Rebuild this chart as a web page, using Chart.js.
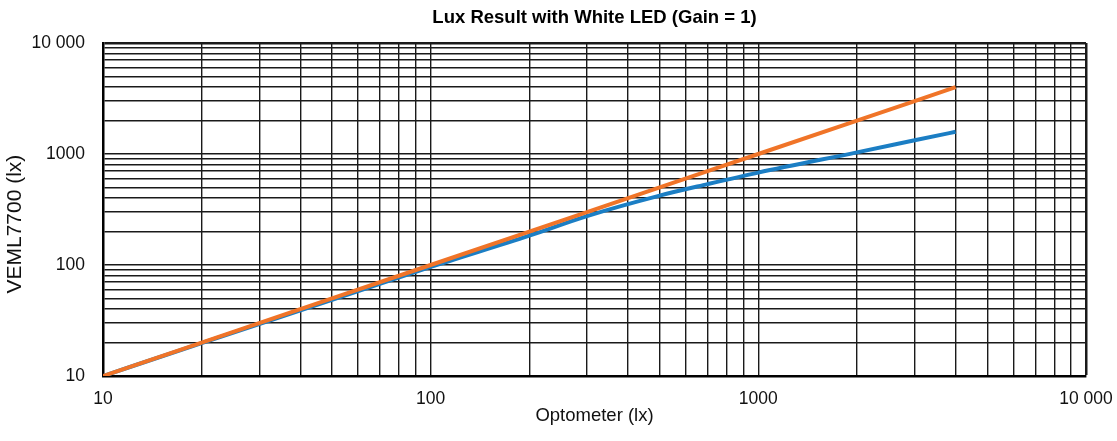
<!DOCTYPE html>
<html>
<head>
<meta charset="utf-8">
<script src="https://cdn.jsdelivr.net/npm/chart.js@4"></script>
<style>
  body { margin: 0; background: #fff; }
  #wrap { width: 1117px; height: 441px; }
</style>
</head>
<body>
<div id="wrap"><canvas id="luxChart"></canvas></div>
<script>
// readings (lx)
const optometerLux = [10, 20, 50, 100, 200, 300, 500, 700, 1000, 2000, 3000, 4000];
const idealLux = [10, 20, 50, 100, 200, 300, 500, 700, 1000, 2000, 3000, 4000];
const vemlLux = [10, 19.8, 48.5, 96, 184, 276, 422, 535, 680, 1035, 1328, 1585];

const decades = [10, 100, 1000, 10000];
const decadeLabels = ['10', '100', '1000', '10 000'];

// grid at every 1..9 multiple inside each decade
function logTicks(scale) {
    const vals = [];
    for (let d = 0; d < decades.length - 1; d++) {
        for (let m = 1; m < 10; m++) vals.push(decades[d] * m);
    }
    vals.push(decades[decades.length - 1]);
    scale.ticks = vals.map(v => ({ value: v }));
}

function tickLabel(value) {
    const i = decades.indexOf(value);
    return i >= 0 ? decadeLabels[i] : '';
}

function toPoints(xs, ys) {
    return xs.map((x, i) => ({ x: x, y: ys[i] }));
}

const fontFamily = '"Liberation Sans", Arial, sans-serif';

const ctx = document.getElementById('luxChart').getContext('2d');
const luxChart = new Chart(ctx, {
    type: 'line',
    data: {
        datasets: [{
            label: 'Optometer',
            data: toPoints(optometerLux, idealLux),
            borderColor: '#f07428',
            borderWidth: 4,
            pointRadius: 0,
            fill: false
        }, {
            label: 'VEML7700',
            data: toPoints(optometerLux, vemlLux),
            borderColor: '#1b7ec4',
            borderWidth: 4,
            pointRadius: 0,
            cubicInterpolationMode: 'monotone',
            fill: false
        }]
    },
    options: {
        responsive: true,
        maintainAspectRatio: false,
        animation: false,
        layout: { padding: { top: 0, right: 31, bottom: 0, left: 0 } },
        scales: {
            x: {
                type: 'logarithmic',
                min: 10,
                max: 10000,
                afterBuildTicks: logTicks,
                afterFit: function(scale) {
                    scale.height = 65;
                    scale.paddingLeft = 0;
                    scale.paddingRight = 0;
                },
                grid: {
                    color: '#1a1a1a',
                    lineWidth: c => (c.tick && c.tick.value === 10000 ? 2.5 : 1.4),
                    drawTicks: false
                },
                border: { color: '#000', width: 2.5 },
                ticks: {
                    autoSkip: false,
                    maxRotation: 0,
                    padding: 12.5,
                    color: '#111',
                    font: { family: fontFamily, size: 17.5 },
                    callback: tickLabel
                },
                title: {
                    display: true,
                    text: 'Optometer (lx)',
                    color: '#111',
                    font: { family: fontFamily, size: 18.5 },
                    padding: { top: 0, bottom: 14 }
                }
            },
            y: {
                type: 'logarithmic',
                min: 10,
                max: 10000,
                afterBuildTicks: logTicks,
                afterFit: function(scale) { scale.width = 103; },
                grid: {
                    color: '#1a1a1a',
                    lineWidth: c => (c.tick && c.tick.value === 10000 ? 2.5 : 1.4),
                    drawTicks: false
                },
                border: { color: '#000', width: 2.5 },
                ticks: {
                    autoSkip: false,
                    padding: 18,
                    color: '#111',
                    font: { family: fontFamily, size: 17.5 },
                    callback: tickLabel
                },
                title: {
                    display: true,
                    // trailing spaces nudge the label a bit below the middle, as in the original
                    text: 'VEML7700 (lx)     ',
                    color: '#111',
                    font: { family: fontFamily, size: 21 },
                    padding: { top: 3, bottom: 0 }
                }
            }
        },
        plugins: {
            legend: { display: false },
            tooltip: { enabled: false },
            title: {
                display: true,
                fullSize: false,
                text: 'Lux Result with White LED (Gain = 1)',
                color: '#000',
                font: { family: fontFamily, size: 18.5, weight: 'bold' },
                padding: { top: 6.9, bottom: 13.9 }
            }
        }
    }
});
</script>
</body>
</html>
